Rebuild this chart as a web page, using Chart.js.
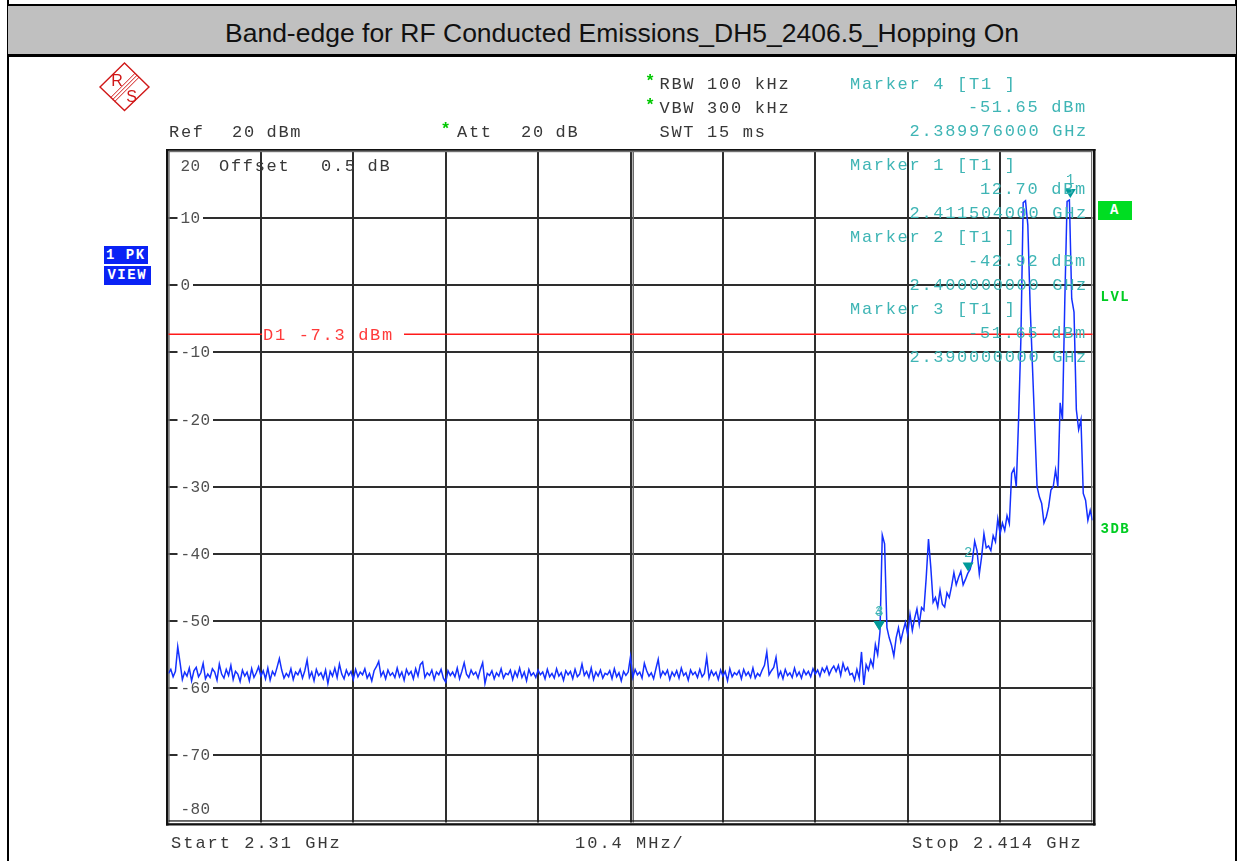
<!DOCTYPE html>
<html><head><meta charset="utf-8">
<script src="https://cdn.jsdelivr.net/npm/chart.js@4/dist/chart.umd.min.js"></script>
<style>
html,body{margin:0;padding:0;background:#fff;}
#page{position:relative;width:1237px;height:861px;overflow:hidden;background:#fff;}
#c{position:absolute;left:0;top:0;width:1237px;height:861px;}
.bl{position:absolute;background:#000;}
#tb{position:absolute;left:8px;top:4px;width:1228px;height:53px;background:#c0c0c0;border-top:2px solid #000;border-bottom:3px solid #000;box-sizing:border-box;}
#title{position:absolute;left:8px;width:1228px;top:19.5px;text-align:center;font-family:"Liberation Sans",Arial,sans-serif;font-size:26.5px;line-height:26.5px;color:#111;white-space:pre;}
.tx{position:absolute;white-space:pre;font-family:"Liberation Mono",monospace;z-index:3;}
.box{position:absolute;z-index:3;font-family:"Liberation Mono",monospace;font-weight:bold;color:#fff;text-align:center;font-size:14px;letter-spacing:1.5px;}
</style></head>
<body><div id="page">
<canvas id="c" width="1237" height="861"></canvas>
<div class="bl" style="left:7px;top:0;width:2px;height:861px"></div>
<div class="bl" style="left:1235px;top:0;width:2px;height:861px"></div>
<div id="tb"></div>
<div id="title">Band-edge for RF Conducted Emissions_DH5_2406.5_Hopping On</div>
<svg style="position:absolute;left:98px;top:61px;z-index:3" width="54" height="52" viewBox="0 0 54 52">
<polygon points="26.5,2 51,26 26.5,49.5 2,26" fill="none" stroke="#d01818" stroke-width="1.4"/>
<line x1="37" y1="12.3" x2="12.7" y2="36.6" stroke="#d01818" stroke-width="1"/>
<line x1="39" y1="14.3" x2="14.7" y2="38.6" stroke="#d01818" stroke-width="1"/>
<line x1="41" y1="16.3" x2="16.7" y2="40.6" stroke="#d01818" stroke-width="1"/>
<text x="19" y="25" font-family="Liberation Sans,Arial" font-size="16" fill="#d01818" text-anchor="middle">R</text>
<text x="33.5" y="41" font-family="Liberation Sans,Arial" font-size="16" fill="#d01818" text-anchor="middle">S</text>
</svg>
<div class="box" style="left:104px;top:245.5px;width:43.5px;height:18px;line-height:18px;background:#0a22f5">1 PK</div>
<div class="box" style="left:104px;top:266px;width:46.5px;height:19px;line-height:19px;background:#0a22f5">VIEW</div>
<div class="box" style="left:1098px;top:201px;width:34px;height:19px;line-height:19px;background:#00dd22">A</div>
</div>
<script>
// ---------- DATA ----------
const START_MHZ = 2310;
const STOP_MHZ = 2414;
const MHZ_PER_DIV = 10.4;
const X_DIVS = 10;
const Y_MAX = 20;
const Y_MIN = -80;
const Y_TICKS = [20, 10, 0, -10, -20, -30, -40, -50, -60, -70, -80];
const D1_DBM = -7.3;
const markerNames = ['1', '2', '3', '4'];
const markerFreqMHz = [2411.504, 2400.000, 2390.000, 2389.976];
const markerLevelDbm = [12.70, -42.92, -51.65, -51.65];
// trace (dBm), 401 sweep points from START to STOP
const traceDbm = [
-57.8,-57.2,-58.3,-57.5,-53.8,-56.2,-58.7,-57.6,-58.2,-57.0,-58.9,-57.4,-56.9,-58.3,-57.7,-56.3,-58.6,-57.9,-58.4,-57.1,
-57.6,-58.8,-56.4,-57.9,-58.5,-57.2,-58.1,-56.6,-58.7,-57.5,-57.9,-59.0,-57.3,-58.2,-57.6,-58.9,-57.1,-58.4,-57.7,-56.8,
-58.2,-57.4,-58.6,-57.0,-58.8,-57.5,-58.1,-56.9,-55.6,-57.3,-58.5,-57.8,-58.3,-57.1,-58.7,-57.6,-58.0,-57.2,-58.5,-57.4,
-55.8,-58.4,-57.6,-58.9,-57.2,-58.1,-57.7,-58.6,-57.3,-59.3,-57.5,-58.2,-57.0,-58.4,-56.4,-57.9,-58.6,-57.3,-58.1,-57.5,
-58.7,-57.2,-58.3,-57.6,-58.0,-57.1,-58.5,-57.8,-58.9,-57.4,-56.8,-56.0,-58.2,-57.5,-58.6,-57.3,-58.1,-57.7,-58.4,-57.0,
-58.3,-57.6,-58.8,-57.2,-58.0,-57.5,-58.6,-57.1,-58.2,-56.5,-56.1,-58.4,-57.7,-58.1,-57.3,-58.7,-57.6,-58.0,-57.2,-58.5,
-59.1,-57.4,-58.1,-57.6,-58.3,-57.0,-58.6,-57.5,-56.2,-57.9,-58.4,-57.3,-58.0,-57.6,-58.5,-57.2,-56.2,-59.3,-57.8,-58.1,
-57.4,-58.6,-57.7,-58.2,-57.1,-58.5,-57.8,-58.0,-57.3,-58.7,-57.5,-58.3,-57.0,-58.4,-57.6,-58.9,-57.2,-58.1,-57.7,-58.4,
-57.3,-58.0,-57.6,-58.6,-57.2,-58.3,-57.8,-58.5,-57.1,-58.2,-57.7,-58.8,-57.4,-58.0,-57.5,-58.6,-57.2,-58.3,-57.9,-56.4,
-58.1,-57.5,-58.4,-57.0,-58.7,-57.6,-58.2,-57.3,-58.5,-57.8,-58.0,-57.4,-58.6,-57.1,-58.3,-57.7,-58.9,-57.5,-58.1,-57.6,
-55.3,-58.4,-57.2,-58.0,-57.6,-58.5,-56.3,-57.4,-58.2,-57.7,-58.6,-57.1,-55.7,-58.3,-57.5,-58.0,-57.3,-58.7,-57.6,-58.2,
-57.4,-58.5,-57.0,-58.1,-57.7,-58.8,-57.3,-58.0,-57.6,-58.4,-57.2,-58.3,-57.8,-55.4,-58.5,-57.4,-58.1,-57.6,-58.7,-57.3,
-58.2,-57.5,-58.9,-57.1,-58.3,-57.7,-58.0,-57.4,-58.6,-57.2,-58.1,-57.6,-58.4,-57.0,-58.5,-57.8,-58.2,-57.3,-56.6,-54.6,
-58.0,-57.4,-56.9,-55.4,-58.3,-57.5,-58.6,-57.2,-58.1,-57.7,-58.4,-57.0,-58.2,-57.6,-58.5,-57.3,-58.0,-57.5,-58.3,-57.1,
-57.9,-57.3,-58.2,-57.0,-57.6,-56.8,-58.0,-57.2,-56.7,-57.5,-56.6,-58.1,-56.3,-57.4,-56.9,-58.0,
-57.8,-58.8,-57.2,-58.5,-54.6,-59.5,-56.5,-57.3,-55.8,-56.8,
-53.5,-55.0,-51.6,-37.2,-38.5,-51.0,-52.5,-53.6,-55.2,-52.5,
-51.0,-53.0,-51.5,-50.2,-52.0,-49.0,-51.4,-49.6,-48.2,-50.5,
-48.0,-48.4,-43.6,-37.8,-42.0,-47.2,-46.5,-47.9,-45.4,-47.5,
-47.9,-45.8,-46.5,-44.8,-42.8,-44.6,-43.5,-42.6,-44.6,-43.8,
-42.9,-42.3,-41.0,-38.1,-39.5,-43.0,-40.4,-37.0,-39.1,-38.8,
-39.5,-37.3,-38.2,-34.8,-37.0,-35.4,-36.5,-34.3,-35.5,-28.0,
-27.3,-30.0,-20.0,-8.0,12.3,12.6,9.0,-3.0,-12.0,-21.0,
-30.0,-31.5,-32.5,-35.4,-34.5,-33.0,-30.5,-30.0,-27.5,-30.0,
-17.5,-20.0,-2.5,12.5,12.7,-2.0,-4.0,-18.5,-21.5,-20.0,
-31.0,-32.0,-35.0,-33.5,-35.0
];
// ---------- END DATA ----------

const stepMHz = (STOP_MHZ - START_MHZ) / (traceDbm.length - 1);
const tracePoints = traceDbm.map((v, i) => ({x: START_MHZ + i * stepMHz, y: v}));

const LBL_GAP_START = 177.5;
function gapEnd(v){ return 181 + String(v).length * 10 + 2; }

const specPlugin = {
  id: 'spec',
  beforeDatasetsDraw(chart) {
    const {ctx, chartArea: a, scales: {x, y}} = chart;
    ctx.save();
    ctx.lineWidth = 2;
    ctx.strokeStyle = '#2e2e2e';
    ctx.beginPath();
    for (let k = 1; k < X_DIVS; k++) {
      const px = Math.round(x.getPixelForValue(START_MHZ + k * MHZ_PER_DIV));
      ctx.moveTo(px, a.top); ctx.lineTo(px, a.bottom);
    }
    Y_TICKS.forEach(v => {
      if (v === Y_MAX || v === Y_MIN) return;
      const py = Math.round(y.getPixelForValue(v));
      ctx.moveTo(a.left, py); ctx.lineTo(LBL_GAP_START, py);
      ctx.moveTo(gapEnd(v), py); ctx.lineTo(a.right, py);
    });
    ctx.stroke();
    // centre double line
    const pc = Math.round(x.getPixelForValue(START_MHZ + 5 * MHZ_PER_DIV));
    ctx.fillStyle = '#6a6a6a';
    ctx.fillRect(pc + 1.5, a.top, 1.5, a.bottom - a.top);
    // frame
    const L = a.left, R = a.right, T = a.top, B = a.bottom;
    ctx.fillStyle = '#111';
    ctx.fillRect(L - 2.5, T - 2, 2.5, B - T + 5);
    ctx.fillRect(L - 2.5, T - 2, R - L + 5.5, 1.8);
    ctx.fillRect(R + 0.5, T - 2, 2.5, B - T + 5);
    ctx.fillRect(L - 2.5, B + 0.7, R - L + 5.5, 2.3);
    ctx.fillStyle = '#707070';
    ctx.fillRect(L, T, 1.2, B - T);
    ctx.fillRect(L, T, R - L, 1.2);
    ctx.fillRect(R - 1.5, T, 1.2, B - T);
    ctx.fillStyle = '#222';
    ctx.fillRect(L, B - 2.2, R - L, 1.3);
    // D1 line
    const pd = y.getPixelForValue(D1_DBM);
    ctx.strokeStyle = '#ff1a1a';
    ctx.lineWidth = 1.5;
    ctx.beginPath();
    ctx.moveTo(L, pd); ctx.lineTo(262, pd);
    ctx.moveTo(404, pd); ctx.lineTo(R, pd);
    ctx.stroke();
    ctx.restore();
  },
  afterDatasetsDraw(chart) {
    const {ctx, scales: {x, y}} = chart;
    ctx.save();
    ctx.fillStyle = '#009a9a';
    markerFreqMHz.forEach((f, i) => {
      const px = x.getPixelForValue(f);
      const py = y.getPixelForValue(markerLevelDbm[i]) - 2;
      ctx.beginPath();
      ctx.moveTo(px, py);
      ctx.lineTo(px - 5.5, py - 9);
      ctx.lineTo(px + 5.5, py - 9);
      ctx.closePath();
      ctx.fill();
    });
    ctx.restore();
  }
};

const chart = new Chart(document.getElementById('c'), {
  type: 'line',
  data: {datasets: [{
    data: tracePoints, borderColor: '#1430ff', borderWidth: 1.5,
    pointRadius: 0, tension: 0, fill: false
  }]},
  options: {
    responsive: false, animation: false, events: [],
    layout: {padding: {left: 168.5, top: 151, right: 1237 - 1092.5, bottom: 861 - 822.5}},
    plugins: {legend: {display: false}, tooltip: {enabled: false}, title: {display: false}},
    scales: {
      x: {type: 'linear', min: START_MHZ, max: STOP_MHZ, display: false},
      y: {type: 'linear', min: Y_MIN, max: Y_MAX, display: false}
    }
  },
  plugins: [specPlugin]
});

// ---------- TEXT OVERLAYS ----------
const page = document.getElementById('page');
const STY = {
  m:  {size: 17, ls: 1.7, color: '#383838', weight: 'normal'},
  mk: {size: 17, ls: 1.7, color: '#3fb5b5', weight: 'normal'},
  d1: {size: 17, ls: 1.7, color: '#ff3a3a', weight: 'normal'},
  b:  {size: 17, ls: 2.0, color: '#383838', weight: 'normal'},
  st: {size: 17, ls: 0, color: '#00c800', weight: 'bold'},
  yl: {size: 16, ls: 0.4, color: '#505050', weight: 'normal'},
  g:  {size: 14, ls: 1.5, color: '#00cc22', weight: 'bold'},
  mn: {size: 14, ls: 0, color: '#3fb5b5', weight: 'normal'}
};
function T(txt, x, cy, s, center) {
  const st = STY[s];
  const d = document.createElement('div');
  d.className = 'tx';
  d.textContent = txt;
  d.style.fontSize = st.size + 'px';
  d.style.lineHeight = st.size + 'px';
  d.style.letterSpacing = st.ls + 'px';
  d.style.color = st.color;
  d.style.fontWeight = st.weight;
  d.style.top = (cy - st.size * 0.4365) + 'px';
  if (center) { d.style.left = (x - 20) + 'px'; d.style.width = '40px'; d.style.textAlign = 'center'; }
  else d.style.left = x + 'px';
  page.appendChild(d);
}
const ADV = 11.9;
T('Ref', 169, 131, 'm'); T('20', 232, 131, 'm'); T('dBm', 266.5, 131, 'm');
T('*', 440.5, 128, 'st'); T('Att', 457, 131, 'm'); T('20', 521, 131, 'm'); T('dB', 555.5, 131, 'm');
T('*', 645, 80, 'st'); T('RBW 100 kHz', 659.5, 83, 'm');
T('*', 645, 104, 'st'); T('VBW 300 kHz', 659.5, 107, 'm');
T('SWT 15 ms', 659.5, 131, 'm');
T('Offset', 219, 165.5, 'm'); T('0.5', 321, 165.5, 'm'); T('dB', 367.5, 165.5, 'm');
T('D1 ' + D1_DBM.toFixed(1) + ' dBm', 263, 334.5, 'd1');
T('Start 2.31 GHz', 171, 842, 'b'); T('10.4 MHz/', 575, 842, 'b'); T('Stop 2.414 GHz', 912, 842, 'b');
T('LVL', 1100.5, 296, 'g'); T('3DB', 1100.5, 528, 'g');

// marker info blocks: marker 4 in header, markers 1..3 inside the grid
const blockOrder = [3, 0, 1, 2];
const blockTop = [83, 164.5, 236.5, 308.5];
blockOrder.forEach((mi, b) => {
  const y0 = blockTop[b];
  const lvl = markerLevelDbm[mi].toFixed(2) + ' dBm';
  const frq = (markerFreqMHz[mi] / 1000).toFixed(9) + ' GHz';
  T('Marker ' + markerNames[mi] + ' [T1 ]', 850, y0, 'mk');
  T(lvl, 1087 - lvl.length * ADV, y0 + 23.8, 'mk');
  T(frq, 1088 - frq.length * ADV, y0 + 47.6, 'mk');
});

// y-axis labels via the chart's scale
const ys = chart.scales.y, xs = chart.scales.x;
Y_TICKS.forEach(v => {
  let cy = ys.getPixelForValue(v);
  if (v === Y_MAX) cy += 14.5;
  if (v === Y_MIN) cy -= 13.5;
  T(String(v), 180.5, cy, 'yl');
});
// marker numbers
markerFreqMHz.forEach((f, i) => {
  T(markerNames[i], xs.getPixelForValue(f), ys.getPixelForValue(markerLevelDbm[i]) - 21, 'mn', true);
});
</script>
</body></html>
